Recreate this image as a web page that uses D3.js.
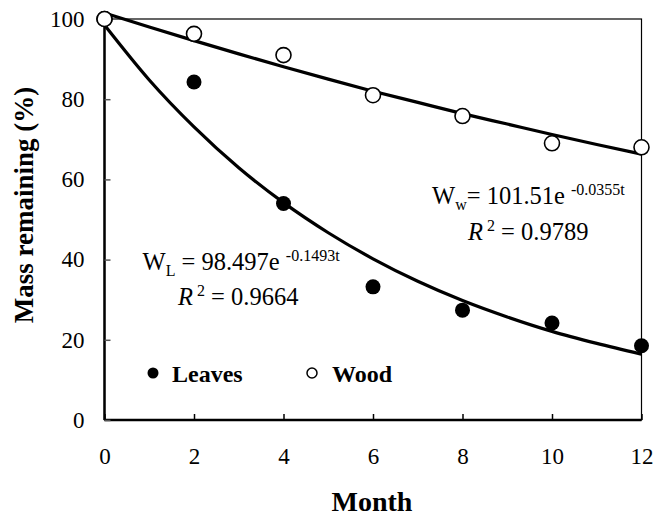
<!DOCTYPE html>
<html><head><meta charset="utf-8">
<script src="https://cdn.jsdelivr.net/npm/d3@7"></script>
<style>body{margin:0;background:#fff}svg{display:block}</style>
</head><body><div id="chart"></div>
<script>
const months = [0, 2, 4, 6, 8, 10, 12];
const leaves = [100, 84.3, 54.0, 33.2, 27.4, 24.2, 18.5];
const wood = [100, 96.3, 91.0, 81.0, 75.8, 69.0, 68.0];
// fitted trend curves read at each month
const fitMonths = [0,1,2,3,4,5,6,7,8,9,10,11,12];
const leavesFit = [98.5, 84.8, 73.1, 62.9, 54.2, 46.7, 40.2, 34.6, 29.8, 25.7, 22.1, 19.1, 16.4];
const woodFit = [101.5, 98.0, 94.6, 91.3, 88.1, 85.0, 82.0, 79.2, 76.4, 73.8, 71.2, 68.7, 66.3];
const xTicks = [0, 2, 4, 6, 8, 10, 12];
const yTicks = [0, 20, 40, 60, 80, 100];

const FONT = "Liberation Serif, Times New Roman, DejaVu Serif, serif";
const W = 656, H = 516;
const m = {left: 104.5, right: 14.5, top: 19, bottom: 96};
const svg = d3.select("#chart").append("svg").attr("width", W).attr("height", H)
  .attr("font-family", FONT);
const x = d3.scaleLinear().domain([0, 12]).range([m.left, W - m.right]);
const y = d3.scaleLinear().domain([0, 100]).range([H - m.bottom, m.top]);

// frame
svg.append("rect").attr("x", x(0)).attr("y", y(100)).attr("width", x(12) - x(0)).attr("height", y(0) - y(100))
  .attr("fill", "none").attr("stroke", "#000").attr("stroke-width", 1.2);
svg.append("line").attr("x1", x(0)).attr("x2", x(0)).attr("y1", y(100)).attr("y2", y(0)).attr("stroke", "#000").attr("stroke-width", 2.5);
svg.append("line").attr("x1", x(0)).attr("x2", x(12)).attr("y1", y(0)).attr("y2", y(0)).attr("stroke", "#000").attr("stroke-width", 2.5);

// axes
const xa = svg.append("g").attr("transform", `translate(0,${y(0)})`)
  .call(d3.axisBottom(x).tickValues(xTicks).tickSize(-6).tickPadding(28).tickFormat(d3.format("d")));
xa.attr("font-family", FONT).attr("font-size", 23);
xa.select(".domain").remove();
xa.selectAll("line").attr("stroke", "#000").attr("stroke-width", 1.5);
xa.selectAll("text").attr("fill", "#000");
const ya = svg.append("g").attr("transform", `translate(${x(0)},0)`)
  .call(d3.axisLeft(y).tickValues(yTicks).tickSize(-6).tickPadding(20).tickFormat(d3.format("d")));
ya.attr("font-family", FONT).attr("font-size", 23);
ya.select(".domain").remove();
ya.selectAll("line").attr("stroke", "#555").attr("stroke-width", 1.5);
ya.selectAll("text").attr("fill", "#000");

// trend lines
const line = d3.line().x(d => x(d[0])).y(d => y(d[1])).curve(d3.curveMonotoneX);
svg.append("path").datum(fitMonths.map((t, i) => [t, woodFit[i]])).attr("d", line)
  .attr("fill", "none").attr("stroke", "#000").attr("stroke-width", 3.2);
svg.append("path").datum(fitMonths.map((t, i) => [t, leavesFit[i]])).attr("d", line)
  .attr("fill", "none").attr("stroke", "#000").attr("stroke-width", 3.2);

// points
svg.selectAll(".wood").data(months).join("circle").attr("cx", d => x(d)).attr("cy", (d, i) => y(wood[i]))
  .attr("r", 7.5).attr("fill", "#fff").attr("stroke", "#000").attr("stroke-width", 1.6);
svg.selectAll(".leaf").data(months).join("circle").attr("cx", d => x(d)).attr("cy", (d, i) => y(leaves[i]))
  .attr("r", 7.5).attr("fill", "#000");
svg.append("circle").attr("cx", x(months[0])).attr("cy", y(wood[0])).attr("r", 7.5)
  .attr("fill", "#fff").attr("stroke", "#000").attr("stroke-width", 1.6);

// equations
function eqLine(xp, yp, sub, body, expo) {
  const t = svg.append("text").attr("x", xp).attr("y", yp).attr("font-size", 24.5);
  t.append("tspan").text("W");
  t.append("tspan").attr("font-size", 16).attr("dy", 6).text(sub);
  t.append("tspan").attr("dy", -6).text(body);
  t.append("tspan").attr("font-size", 16).attr("dy", -9).text(expo);
}
function r2Line(xp, yp, val) {
  const r = svg.append("text").attr("x", xp).attr("y", yp).attr("font-size", 24.5);
  r.append("tspan").attr("font-style", "italic").text("R");
  r.append("tspan").attr("font-size", 16).attr("dy", -9).text(" 2");
  r.append("tspan").attr("dy", 9).text(" = " + val);
}
eqLine(142.5, 270, "L", " = 98.497e ", "-0.1493t");
r2Line(178, 305, "0.9664");
eqLine(432, 204, "w", "= 101.51e ", "-0.0355t");
r2Line(468, 240, "0.9789");

// legend
svg.append("circle").attr("cx", 153).attr("cy", 373).attr("r", 5.5).attr("fill", "#000");
svg.append("text").attr("x", 172).attr("y", 382).attr("font-size", 24).attr("font-weight", "bold").text("Leaves");
svg.append("circle").attr("cx", 312).attr("cy", 373).attr("r", 5).attr("fill", "#fff").attr("stroke", "#000").attr("stroke-width", 1.5);
svg.append("text").attr("x", 332).attr("y", 382).attr("font-size", 24).attr("font-weight", "bold").text("Wood");

// axis titles
svg.append("text").attr("x", 372).attr("y", 511).attr("text-anchor", "middle").attr("font-size", 28).attr("font-weight", "bold").text("Month");
svg.append("text").attr("transform", `translate(33,205) rotate(-90)`).attr("text-anchor", "middle")
  .attr("font-size", 27).attr("font-weight", "bold").text("Mass remaining (%)");
</script></body></html>
